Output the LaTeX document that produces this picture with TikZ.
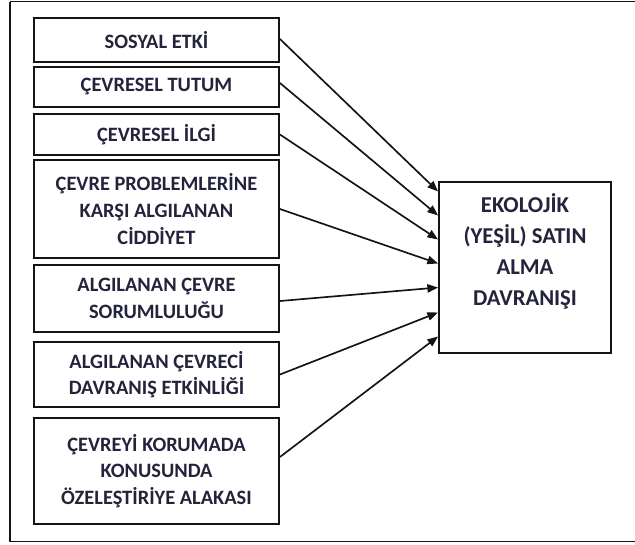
\documentclass[tikz,border=0pt]{standalone}
\usepackage{fontspec}
\setmainfont{Carlito}
\usetikzlibrary{arrows.meta,calc}
\definecolor{ink}{RGB}{20,20,20}
\definecolor{txt}{RGB}{35,35,60}
\tikzset{
  x=0.75pt, y=-0.75pt,
  factor/.style={draw=ink, line width=1.4pt, minimum width=245*0.75pt, inner sep=0pt,
    align=center, font=\fontsize{15.3}{19.9}\selectfont\bfseries, text=txt},
  outcome/.style={draw=ink, line width=1.4pt, minimum width=172*0.75pt, minimum height=171*0.75pt, inner sep=0pt},
  outtext/.style={align=center, font=\fontsize{17}{23.2}\selectfont\bfseries, text=txt, inner sep=0pt},
  link/.style={draw=ink, line width=1.25pt, -{Triangle[length=8pt,width=6.2pt]}}
}
\begin{document}
\begin{tikzpicture}
\useasboundingbox (0,0) rectangle (635,544);
\fill[white] (0,0) rectangle (635,544);
% outer frame, its right side runs off the page
\begin{scope}
\clip (0,0) rectangle (635,544);
\draw[ink, line width=1.1pt] (10,1.5) -- (645,1.5) (10,1.5) -- (10,541.5) -- (645,541.5);
\end{scope}

% factor boxes
\node[factor, minimum height=44*0.75pt] (b1) at (156.5,40) {SOSYAL ETKİ};
\node[factor, minimum height=40*0.75pt] (b2) at (156.5,87) {ÇEVRESEL TUTUM};
\node[factor, minimum height=41*0.75pt] (b3) at (156.5,134.5) {ÇEVRESEL İLGİ};
\node[factor, minimum height=98*0.75pt] (b4) at (156.5,209) {ÇEVRE PROBLEMLERİNE\\KARŞI ALGILANAN\\CİDDİYET};
\node[factor, minimum height=67*0.75pt] (b5) at (156.5,298.5) {ALGILANAN ÇEVRE\\SORUMLULUĞU};
\node[factor, minimum height=65*0.75pt] (b6) at (156.5,374.5) {ALGILANAN ÇEVRECİ\\DAVRANIŞ ETKİNLİĞİ};
\node[factor, minimum height=106*0.75pt] (b7) at (156.5,471) {ÇEVREYİ KORUMADA\\KONUSUNDA\\ÖZELEŞTİRİYE ALAKASI};

% outcome box
\node[outcome] (out) at (525,267.5) {};
\node[outtext] (outt) at (525,251.5) {EKOLOJİK\\(YEŞİL) SATIN\\ALMA\\DAVRANIŞI};

% connectors
\draw[link] ($(b1.east)+(0,-1)$) -- ($(out.west)+(0,-76)$);
\draw[link] ($(b2.east)+(0,-4)$) -- ($(out.west)+(0,-52)$);
\draw[link] (b3.east) -- ($(out.west)+(0,-28)$);
\draw[link] (b4.east) -- ($(out.west)+(0,-4)$);
\draw[link] ($(b5.east)+(0,2.5)$) -- ($(out.west)+(0,20)$);
\draw[link] (b6.east) -- ($(out.west)+(0,45)$);
\draw[link] ($(b7.east)+(0,-14)$) -- ($(out.west)+(0,69)$);
\end{tikzpicture}
\end{document}
